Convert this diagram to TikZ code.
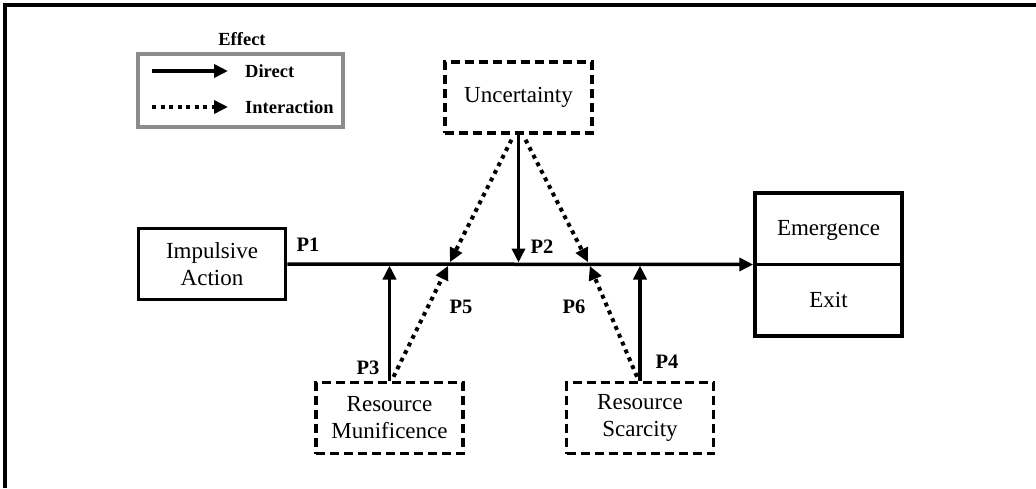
\documentclass[tikz,border=0pt]{standalone}
\usepackage{fontspec}
\setmainfont{Liberation Serif}
\usetikzlibrary{arrows.meta}
\definecolor{legendgray}{RGB}{140,140,140}
\begin{document}
\begin{tikzpicture}[x=1pt,y=-1pt,
  box/.style={draw, line width=3.5pt, minimum width=147pt, minimum height=71pt, align=center, font=\fontsize{23}{27}\selectfont, inner sep=0pt},
  dbox/.style={box, dash pattern=on 9pt off 5pt},
  txt/.style={font=\fontsize{23}{27}\selectfont, inner sep=0pt},
  lab/.style={font=\fontsize{20.5}{24}\selectfont\bfseries, inner sep=0pt},
  leg/.style={font=\fontsize{18.5}{22}\selectfont\bfseries, inner sep=0pt},
  tip/.style={-{Triangle[length=14pt,width=13pt]}},
  direct/.style={line width=3.5pt, tip},
  inter/.style={line width=4pt, dash pattern=on 4pt off 4.5pt, tip},
]
\useasboundingbox (0,0) rectangle (1036,488);
\draw[line width=3.5pt] (5,488) -- (5,5) -- (1036,5);

% legend
\node[draw=legendgray, line width=3.5pt, minimum width=205pt, minimum height=73pt, inner sep=0pt] (legend) at (240.5,90.5) {};
\node[leg] (effect) at (242,39) {Effect};
\coordinate (d1) at (152,71);
\coordinate (d2) at (228,71);
\coordinate (i1) at (152,107);
\coordinate (i2) at (228,107);
\draw[direct] (d1) -- (d2);
\draw[inter] (i1) -- (i2);
\node[leg, anchor=west] (ldirect) at (245,71) {Direct};
\node[leg, anchor=west] (linter) at (245,107) {Interaction};

% boxes
\node[box] (imp) at (212,264) {Impulsive\\Action};
\node[dbox] (unc) at (518.5,97.5) {Uncertainty};
\node[dbox] (mun) at (389.5,418) {Resource\\Munificence};
\node[dbox] (sca) at (640,418) {Resource\\Scarcity};
\node[draw, line width=3.5pt, minimum width=147pt, minimum height=143pt, inner sep=0pt] (out) at (828.5,264.5) {};
\draw[line width=3.5pt] (out.west) -- (out.east);
\node[txt] (emer) at (828.5,230) {Emergence};
\node[txt] (exit) at (828.5,300) {Exit};

% main arrow
\draw[direct] (imp.east) -- (out.west);

\coordinate (L) at (449,264);
\coordinate (R) at (589,264);

% direct moderating arrows
\draw[direct, shorten >=1.5pt] (unc.south) -- (unc.south |- imp.east);
\draw[direct, shorten >=1.5pt] (mun.north) -- (mun.north |- imp.east);
\draw[direct, shorten >=1.5pt] (sca.north) -- (sca.north |- imp.east);

% interaction arrows
\draw[inter, shorten >=2pt] ([xshift=-7pt,yshift=-5pt]unc.south) -- (L);
\draw[inter, shorten >=2pt] ([xshift=7pt,yshift=-5pt]unc.south) -- (R);
\draw[inter, shorten >=2pt] ([xshift=4pt,yshift=4pt]mun.north) -- (L);
\draw[inter, shorten >=2pt] ([xshift=-3pt,yshift=4pt]sca.north) -- (R);

% labels
\node[lab] (p1) at (308,245) {P1};
\node[lab] (p2) at (542,247) {P2};
\node[lab] (p3) at (368,368) {P3};
\node[lab] (p4) at (667,362) {P4};
\node[lab] (p5) at (461,307) {P5};
\node[lab] (p6) at (574,307) {P6};
\end{tikzpicture}
\end{document}
